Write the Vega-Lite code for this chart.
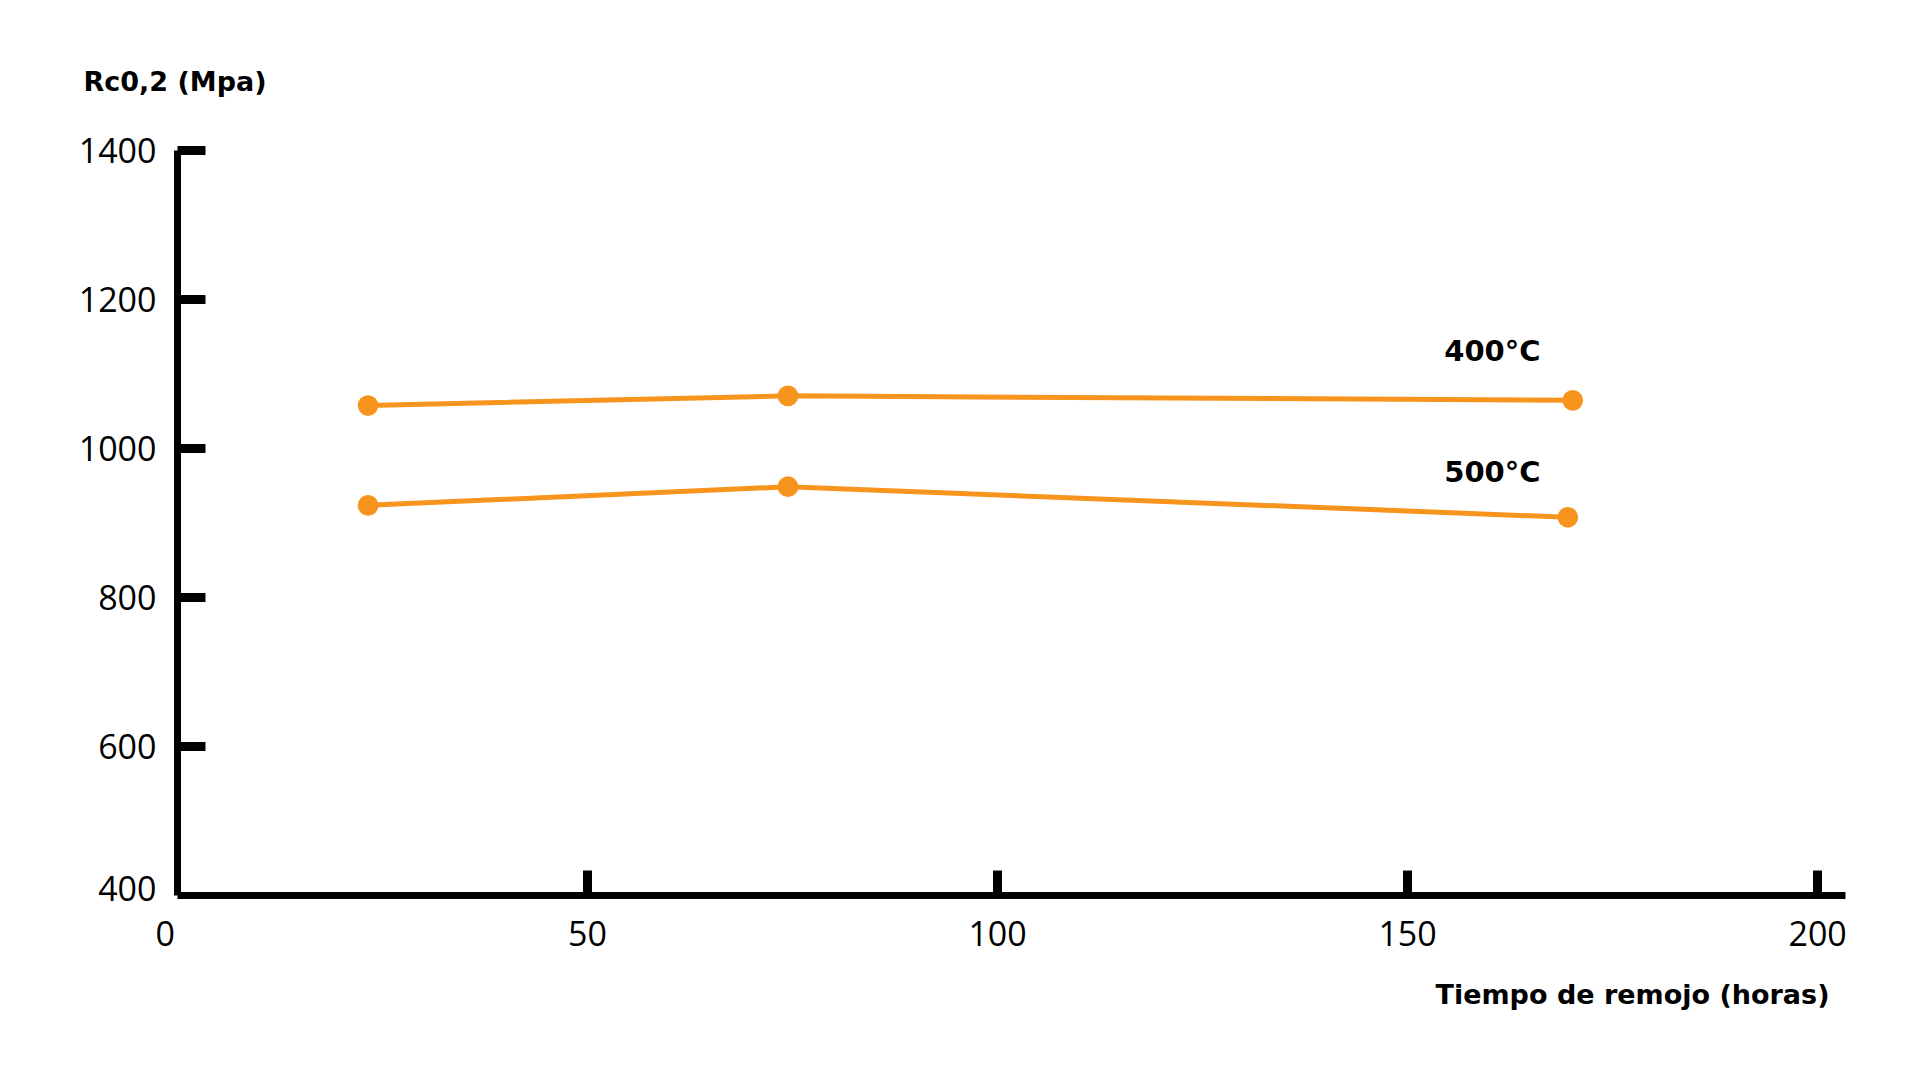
{
  "$schema": "https://vega.github.io/schema/vega-lite/v6.json",
  "width": 1668,
  "height": 745,
  "autosize": "none",
  "padding": {"left": 177, "top": 150, "right": 75, "bottom": 185},
  "background": "white",
  "config": {"view": {"stroke": null}},
  "data": {
    "values": [
      {"serie": "400°C", "t": 23.3, "rc": 1057},
      {"serie": "400°C", "t": 74.5, "rc": 1070},
      {"serie": "400°C", "t": 170.2, "rc": 1064},
      {"serie": "500°C", "t": 23.3, "rc": 923},
      {"serie": "500°C", "t": 74.5, "rc": 948},
      {"serie": "500°C", "t": 169.6, "rc": 907}
    ]
  },
  "encoding": {
    "x": {
      "field": "t", "type": "quantitative",
      "scale": {"domain": [0, 203.4], "nice": false},
      "axis": {
        "values": [0, 50, 100, 150, 200],
        "format": "d",
        "grid": false,
        "domainColor": "black", "domainWidth": 7,
        "tickColor": "black", "tickWidth": 9, "tickSize": -25,
        "tickOpacity": {"condition": {"test": "datum.value == 0", "value": 0}, "value": 1},
        "labelFont": "Open Sans", "labelFontSize": 34, "labelColor": "black",
        "labelPadding": 48,
        "labelOffset": {"condition": {"test": "datum.value == 0", "value": -22}, "value": 0},
        "title": "Tiempo de remojo (horas)",
        "titleFont": "DejaVu Sans", "titleFontWeight": 700, "titleFontSize": 27, "titleColor": "black",
        "titleAlign": "right", "titleAnchor": null, "titleBaseline": "alphabetic",
        "titleX": 1652, "titleY": 108
      }
    },
    "y": {
      "field": "rc", "type": "quantitative",
      "scale": {"domain": [400, 1400], "nice": false, "zero": false},
      "axis": {
        "values": [400, 600, 800, 1000, 1200, 1400],
        "format": "d",
        "grid": false,
        "domainColor": "black", "domainWidth": 7,
        "tickColor": "black", "tickWidth": 9, "tickSize": -28,
        "tickOpacity": {"condition": {"test": "datum.value == 400", "value": 0}, "value": 1},
        "labelFont": "Open Sans", "labelFontSize": 34, "labelColor": "black",
        "labelPadding": 49,
        "labelOffset": {"condition": {"test": "datum.value == 400", "value": -5}, "value": 2},
        "title": "Rc0,2 (Mpa)",
        "titleFont": "DejaVu Sans", "titleFontWeight": 700, "titleFontSize": 27, "titleColor": "black",
        "titleAngle": 0, "titleAlign": "left", "titleAnchor": null, "titleBaseline": "alphabetic",
        "titleX": -94, "titleY": -60
      }
    }
  },
  "layer": [
    {
      "mark": {"type": "line", "strokeWidth": 5, "color": "#F7941D"},
      "encoding": {"detail": {"field": "serie"}}
    },
    {
      "mark": {"type": "point", "filled": true, "size": 430, "opacity": 1, "color": "#F7941D"},
      "encoding": {}
    },
    {
      "data": {
        "values": [
          {"label": "400°C", "t": 160.4, "rc": 1117},
          {"label": "500°C", "t": 160.4, "rc": 954}
        ]
      },
      "mark": {"type": "text", "font": "DejaVu Sans", "fontWeight": 700, "fontSize": 29, "color": "black", "align": "center", "baseline": "alphabetic"},
      "encoding": {"text": {"field": "label"}}
    }
  ]
}
